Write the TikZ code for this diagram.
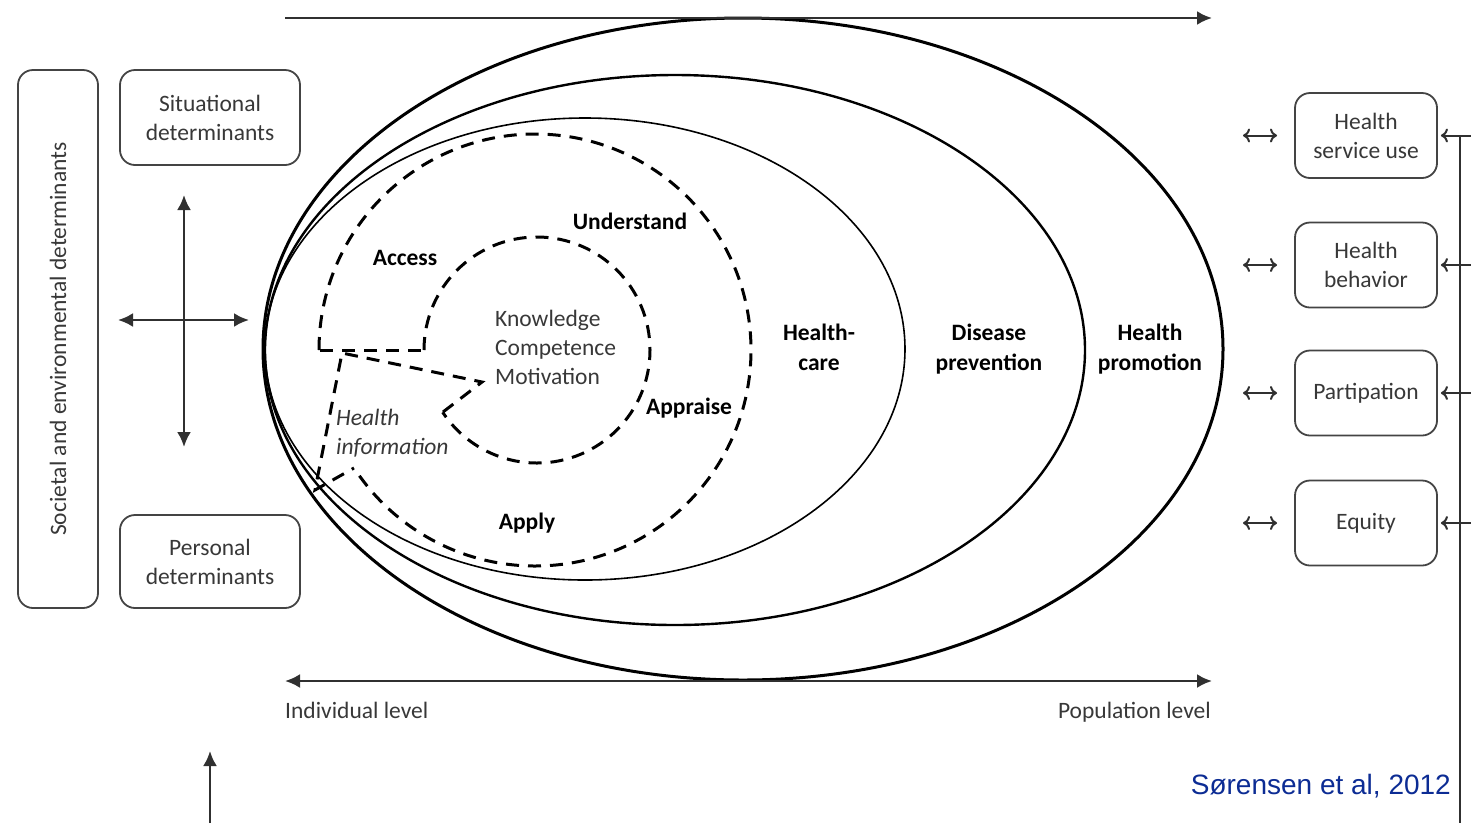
\documentclass[tikz,border=0pt]{standalone}
\usepackage{fontspec}
\setmainfont{Carlito}
\newfontfamily\arialfont{Liberation Sans}
\usetikzlibrary{arrows.meta}
\definecolor{txt}{HTML}{383838}
\definecolor{boxc}{HTML}{444444}
\definecolor{arrc}{HTML}{303030}
\definecolor{cite}{HTML}{0C2C94}
\begin{document}
\begin{tikzpicture}[x=1pt,y=-1pt,
  lbl/.style={font=\fontsize{23.5}{29}\selectfont, text=txt, align=center, inner sep=0pt},
  blbl/.style={font=\fontsize{23.5}{30}\selectfont\bfseries, text=black, align=center, inner sep=0pt},
  ilbl/.style={font=\fontsize{23.5}{29}\selectfont\itshape, text=txt, align=left, inner sep=0pt},
  box/.style={draw=boxc, line width=1.8pt, rounded corners=15pt, font=\fontsize{23.5}{29}\selectfont, text=txt, align=center, inner sep=2pt},
  dsh/.style={line width=3pt, dash pattern=on 13pt off 9pt, draw=black},
  bigarrow/.style={line width=2.5pt, draw=arrc, -{Latex[length=15pt,width=14pt]}},
  bigboth/.style={line width=2.5pt, draw=arrc, {Latex[length=15pt,width=14pt]}-{Latex[length=15pt,width=14pt]}},
  smallboth/.style={line width=2pt, draw=arrc, {To[length=7pt,width=14pt]}-{To[length=7pt,width=14pt]}},
  smallleft/.style={line width=2pt, draw=arrc, {To[length=7pt,width=14pt]}-},
]
\useasboundingbox[fill=white] (0,0) rectangle (1471,823);

% ellipses
\draw[line width=3pt] (743,349) ellipse [x radius=480, y radius=331];
\draw[line width=2.4pt] (675,350) ellipse [x radius=410, y radius=275];
\draw[line width=1.6pt] (585,349) ellipse [x radius=320, y radius=231];

% dashed structure
\draw[dsh] (319,350) arc[start angle=180, end angle=506.7, radius=216];
\draw[dsh] (424,350) arc[start angle=180, end angle=506.6, radius=113];
\draw[dsh] (320,350) -- (424,350);
\draw[dsh] (443,412) -- (482,382) -- (342,353) -- (315,490) -- (354,468);

% top / bottom arrows
\coordinate (tl) at (285,18); \coordinate (tr) at (1212,18);
\draw[bigarrow] (tl) -- (tr);
\coordinate (bl) at (285,681); \coordinate (br) at (1212,681);
\draw[bigboth] (bl) -- (br);
\node[lbl, anchor=base west] (ind) at (285,718) {Individual level};
\node[lbl, anchor=base east] (pop) at (1211,718) {Population level};
\coordinate (ub) at (210,823); \coordinate (ut) at (210,751);
\draw[bigarrow] (ub) -- (ut);

% left side
\node[box, rotate=90, minimum width=538pt, minimum height=80pt] (soc) at (58,339) {Societal and environmental determinants};
\node[box, minimum width=180pt, minimum height=95pt] (sit) at (210,117.5) {Situational\\determinants};
\node[box, minimum width=180pt, minimum height=93pt] (per) at (210,561.5) {Personal\\determinants};
\coordinate (cv1) at (184,195); \coordinate (cv2) at (184,447);
\coordinate (ch1) at (118,320); \coordinate (ch2) at (249,320);
\draw[bigboth] (cv1) -- (cv2);
\draw[bigboth] (ch1) -- (ch2);

% inner labels
\node[blbl] (und) at (630,221) {Understand};
\node[blbl] (acc) at (405,258) {Access};
\node[lbl, anchor=west, align=left] (kcm) at (495,347) {Knowledge\\Competence\\Motivation};
\node[blbl] (app) at (689,408) {Appraise};
\node[ilbl, anchor=west] (hin) at (336,433) {Health\\information};
\node[blbl] (apl) at (527,523) {Apply};
\node[blbl] (hc) at (819,347) {Health-\\care};
\node[blbl] (dp) at (989,349) {Disease\\prevention};
\node[blbl] (hp) at (1150,349) {Health\\promotion};

% right side boxes
\foreach \n/\y/\t in {hsu/135.5/{Health\\service use}, hb/265/{Health\\behavior}, pa/393/{Partipation}, eq/523/{Equity}}{
  \node[box, minimum width=142pt, minimum height=85pt] (\n) at (1366,\y) {\t};
  \coordinate (\n-l1) at (1243,\y); \coordinate (\n-l2) at (1277,\y);
  \draw[smallboth] (\n-l1) -- (\n-l2);
  \coordinate (\n-r) at (1471,\y);
  \draw[smallleft] (\n.east) ++(3,0) coordinate (\n-tip) -- (\n-r);
}
\coordinate (vt) at (1460,135.5); \coordinate (vb) at (1460,823);
\draw[line width=2pt, draw=arrc] (vt) -- (vb);

\node[font=\arialfont\fontsize{28}{32}\selectfont, text=cite, anchor=east, inner sep=0pt] (cit) at (1451,786) {Sørensen et al, 2012};
\end{tikzpicture}
\end{document}
